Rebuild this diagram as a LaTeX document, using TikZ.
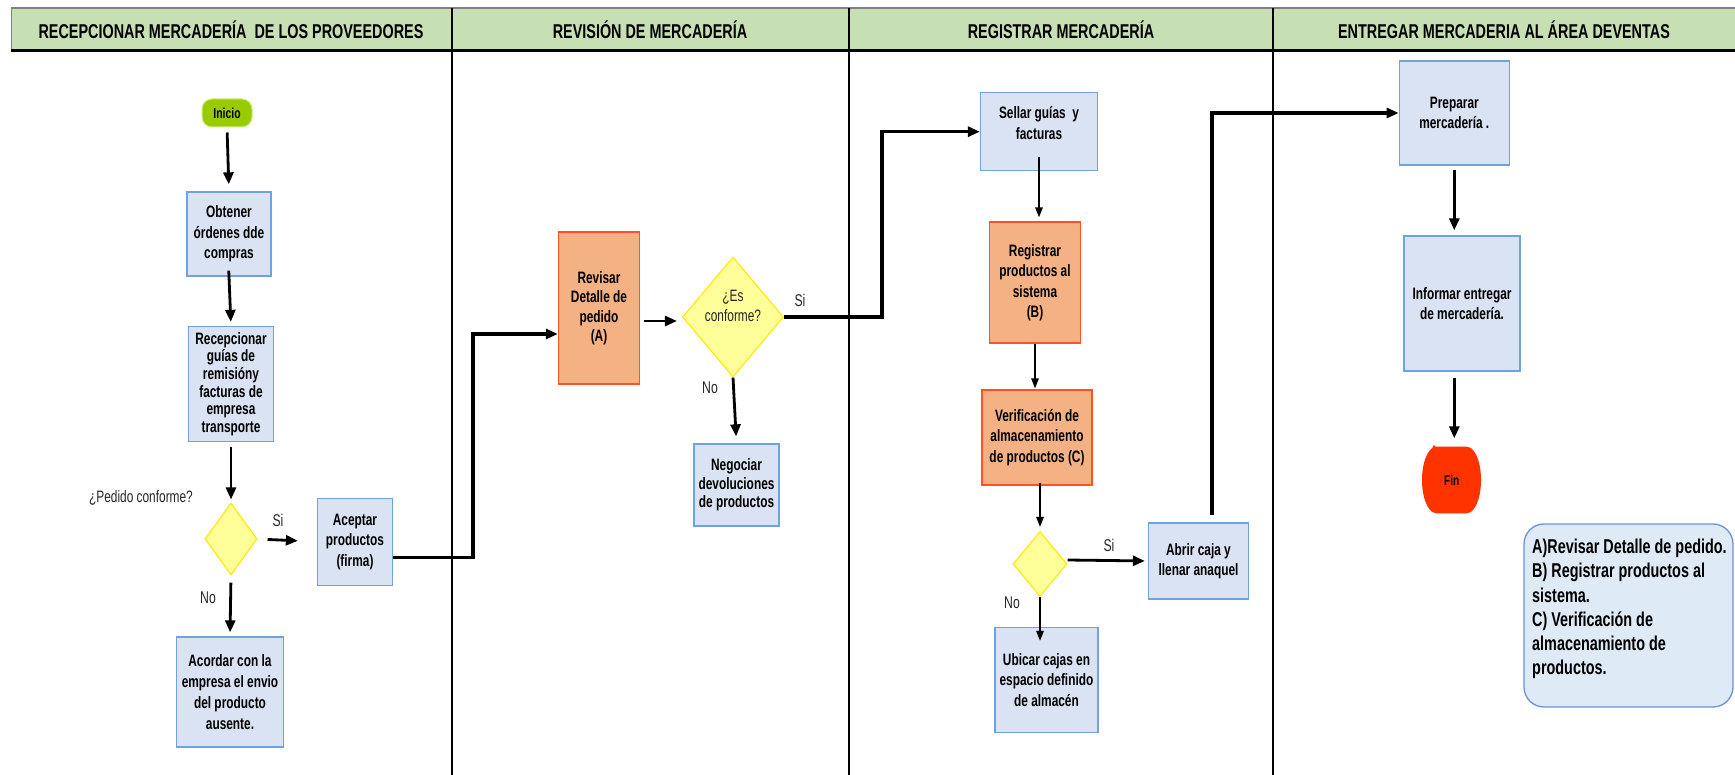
\documentclass[tikz,border=0pt]{standalone}
\usepackage{fontspec}
\setmainfont{Liberation Sans}[FakeStretch=0.72]
\usetikzlibrary{shapes.geometric,arrows.meta,calc}
\definecolor{hdrgreen}{HTML}{C6E0B4}
\definecolor{procfill}{HTML}{DAE3F3}
\definecolor{procline}{HTML}{6FA3DC}
\definecolor{orfill}{HTML}{F4B183}
\definecolor{orline}{HTML}{FF5326}
\definecolor{decfill}{HTML}{FFFF99}
\definecolor{decline}{HTML}{FFE800}
\definecolor{inifill}{HTML}{99CC00}
\definecolor{iniline}{HTML}{C8EE80}
\definecolor{finfill}{HTML}{FF3300}
\definecolor{legfill}{HTML}{DEEAF6}
\definecolor{legline}{HTML}{6A93D4}
\definecolor{lbl}{HTML}{262626}
\newcommand\myboxfont{\fontsize{16.5}{20.5}\selectfont\bfseries}
\begin{document}
\begin{tikzpicture}[x=1pt,y=-1pt,
  proc/.style={draw=procline,fill=procfill,line width=1.3pt,inner sep=0pt,align=center,font=\myboxfont},
  orproc/.style={draw=orline,fill=orfill,line width=1.3pt,inner sep=0pt,align=center,font=\myboxfont},
  decis/.style={diamond,draw=decline,fill=decfill,line width=1.1pt,inner sep=0pt},
  lab/.style={inner sep=0pt,text=lbl,font=\fontsize{17}{20}\selectfont},
  txt/.style={inner sep=0pt,align=center,font=\myboxfont},
  hdr/.style={inner sep=0pt,font=\fontsize{20}{24}\selectfont\bfseries},
  arr/.style={line width=2.8pt,-{Triangle[length=12pt,width=10pt]}},
  conn/.style={line width=3.4pt,-{Triangle[length=12pt,width=10pt]}},
  thinarr/.style={line width=1.5pt,-{Triangle[length=10pt,width=7.5pt]}},
  lane/.style={line width=2pt,black}]
\useasboundingbox (0,0) rectangle (1735,775);
% header
\fill[hdrgreen] (11,8) rectangle (1735,51);
\draw[gray,line width=2pt] (11,8) -- (1735,8);
\draw[gray,line width=1pt] (11,8) -- (11,51);
\draw[black,line width=3pt] (11,51) -- (1735,51);
\draw[lane] (451.7,8) -- (451.7,775);
\draw[lane] (849,8) -- (849,775);
\draw[lane] (1273,8) -- (1273,775);
\node[hdr] (h1) at (231,30) {RECEPCIONAR MERCADERÍA\ \ DE LOS PROVEEDORES};
\node[hdr] (h2) at (650,30) {REVISIÓN DE MERCADERÍA};
\node[hdr] (h3) at (1061,30) {REGISTRAR MERCADERÍA};
\node[hdr] (h4) at (1504,30) {ENTREGAR MERCADERIA AL ÁREA DEVENTAS};
% lane 1
\node[draw=iniline,fill=inifill,line width=1pt,rounded corners=10pt,minimum width=50pt,minimum height=28pt,inner sep=0pt,font=\fontsize{14.5}{17}\selectfont\bfseries] (ini) at (227,113) {Inicio};
\node[proc,minimum width=84pt,minimum height=84pt] (obt) at (229,234) {Obtener\\órdenes dde\\compras};
\node[proc,minimum width=85pt,minimum height=115pt,font=\fontsize{16.5}{17.6}\selectfont\bfseries] (rec) at (231,384) {Recepcionar\\guías de\\remisióny\\facturas de\\empresa\\transporte};
\node[decis,minimum width=52pt,minimum height=72pt] (d1) at (231,539) {};
\node[lab,font=\fontsize{16.5}{20}\selectfont] (pc) at (141,498) {¿Pedido conforme?};
\node[proc,minimum width=75pt,minimum height=87pt] (acep) at (355,541.7) {Aceptar\\productos\\(firma)};
\node[proc,minimum width=107pt,minimum height=110pt,font=\fontsize{16.5}{21}\selectfont\bfseries] (acor) at (230,692) {Acordar con la\\empresa el envio\\del producto\\ausente.};
\node[lab] (si1) at (278,520) {Si};
\node[lab] (no1) at (208,598) {No};
\draw[arr,shorten <=5pt,shorten >=7pt] (ini.south) -- (obt.north);
\draw[arr,shorten <=-6pt,shorten >=4pt] (obt.south) -- (rec.north);
\draw[arr,shorten <=5pt,shorten >=3pt] (rec.south) -- (d1.north);
\draw[arr,shorten <=10pt,shorten >=19pt] (d1.east) -- (acep.west);
\draw[arr,shorten <=7pt,shorten >=4pt] (d1.south) -- (acor.north);
% lane 2
\node[orproc,minimum width=81pt,minimum height=152pt,font=\fontsize{16.5}{19.5}\selectfont\bfseries] (rev) at (599,308) {Revisar\\Detalle de\\pedido\\(A)};
\node[decis,minimum width=101pt,minimum height=120pt] (d2) at (733,317) {};
\node[lab,align=center,font=\fontsize{16.5}{20.5}\selectfont] (d2t) at (733,306) {¿Es\\conforme?};
\node[lab] (si2) at (800,300) {Si};
\node[lab] (no2) at (710,388) {No};
\node[proc,minimum width=85pt,minimum height=82pt,font=\fontsize{16.5}{18.5}\selectfont\bfseries] (neg) at (736.5,485) {Negociar\\devoluciones\\de productos};
\draw[conn] ([yshift=-15.6pt]acep.east) -- ++(80,0) |- ([yshift=-26pt]rev.west);
\draw[arr,shorten <=4pt,shorten >=5pt] ([yshift=-13pt]rev.east) -- ([yshift=-4pt]d2.west);
\draw[arr,shorten >=7pt] (d2.south) -- (neg.north);
% lane 3
\node[proc,minimum width=117pt,minimum height=78pt] (sel) at (1039,131.7) {};
\node[txt] (selt) at (1039,123) {Sellar guías\ \ y\\facturas};
\node[orproc,minimum width=91pt,minimum height=121pt] (reg) at (1035,282.5) {Registrar\\productos al\\sistema\\(B)};
\node[orproc,minimum width=110pt,minimum height=95pt] (ver) at (1037,437.5) {Verificación de\\almacenamiento\\de productos (C)};
\node[decis,minimum width=54pt,minimum height=65pt] (d3) at (1040,564) {};
\node[lab] (si3) at (1109,545) {Si};
\node[lab] (no3) at (1012,603) {No};
\node[proc,minimum width=103pt,minimum height=105pt] (ubi) at (1046.5,680) {Ubicar cajas en\\espacio definido\\de almacén};
\node[proc,minimum width=100pt,minimum height=76pt] (abr) at (1198.5,561) {Abrir caja y\\llenar anaquel};
\draw[conn] (d2.east) -- ++(98,0) |- (sel.west);
\draw[thinarr,shorten <=-14pt,shorten >=4pt] (sel.south) -- (sel.south |- reg.north);
\draw[thinarr,shorten >=1pt] (reg.south) -- (reg.south |- ver.north);
\draw[thinarr,shorten <=-3pt,shorten >=4pt] (ver.south -| d3.north) -- (d3.north);
\draw[arr,shorten >=3pt] ([yshift=4pt]d3.east) -- (abr.west);
\draw[thinarr] (d3.south) -- ($(d3.south |- ubi.north)+(0,14)$);
% lane 4
\node[proc,minimum width=110pt,minimum height=104pt] (prep) at (1454.3,113) {Preparar\\mercadería .};
\node[proc,minimum width=116pt,minimum height=135pt] (inf) at (1462,303.5) {Informar entregar\\de mercadería.};
\fill[finfill,rounded corners=2pt] (1434,446.7) -- (1469,446.7) .. controls (1484.5,458) and (1484.5,502) .. (1469,513.3) -- (1434,513.3) .. controls (1418.5,502) and (1418.5,458) .. (1434,446.7) -- cycle;
\node[minimum width=58pt,minimum height=67pt,inner sep=0pt,font=\fontsize{14}{17}\selectfont\bfseries] (fin) at (1451.7,480) {Fin};
\draw[conn] ([xshift=13.5pt,yshift=7pt]abr.north) |- (prep.west);
\draw[arr,shorten <=4pt,shorten >=5pt] (prep.south) -- (prep.south |- inf.north);
\draw[arr,shorten <=6pt,shorten >=8pt] (prep.south |- inf.south) -- (prep.south |- fin.north);
\node[draw=legline,fill=legfill,line width=1.3pt,rounded corners=20pt,minimum width=209pt,minimum height=183pt,inner sep=0pt] (leg) at (1628.5,615.5) {};
\node[anchor=west,inner sep=0pt,align=left,font=\fontsize{20}{24.2}\selectfont\bfseries] (legt) at (1532,609) {A)Revisar Detalle de pedido.\\B) Registrar productos al\\sistema.\\C) Verificación de\\almacenamiento de\\productos.};
\end{tikzpicture}
\end{document}
